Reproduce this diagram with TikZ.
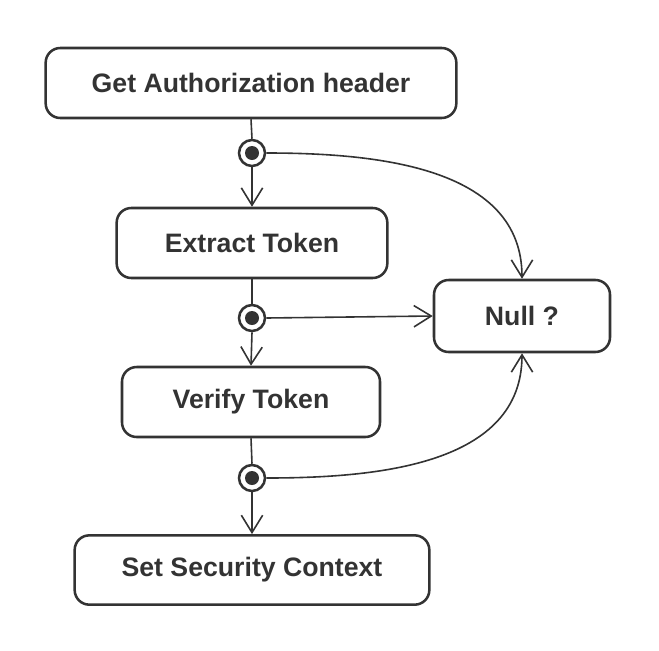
\documentclass[tikz,border=0pt]{standalone}
\usepackage{fontspec}
\setmainfont{Liberation Sans}
\usetikzlibrary{arrows.meta}
\definecolor{ink}{HTML}{333333}

\tikzset{
  stepbox/.style={draw=ink, line width=1.9pt, rounded corners=11pt, text=ink,
    font=\fontsize{20}{24}\selectfont\bfseries, inner sep=0pt},
  junction/.style={circle, draw=ink, line width=1.9pt, minimum size=19.5pt, inner sep=0pt,
    path picture={\fill[ink] (path picture bounding box.center) circle (5.25pt);}},
  flow/.style={draw=ink, line width=1.2pt, -{Straight Barb[length=13pt,width=16pt]}},
  plain/.style={draw=ink, line width=1.2pt},
}

\begin{document}
\begin{tikzpicture}[x=0.75pt,y=-0.75pt]
\useasboundingbox (0,0) rectangle (659,650);

\node [stepbox, minimum width=308pt, minimum height=52.5pt] (header) at (251,83) {Get Authorization header};
\node [stepbox, minimum width=203pt, minimum height=52.5pt] (extract) at (252,243) {Extract Token};
\node [stepbox, minimum width=193.5pt, minimum height=52.5pt] (verify) at (251,402) {Verify Token};
\node [stepbox, minimum width=266pt, minimum height=52pt] (context) at (252,570) {Set Security Context};
\node [stepbox, minimum width=132pt, minimum height=54pt] (null) at (522,316) {Null ?};

\foreach \i / \y in {1/153,2/318,3/478}
  \node [junction] (j\i) at (252,\y) {};

\draw [plain] (header.south) -- (j1.north);
\draw [flow] (j1.south) -- (extract.north);
\draw [plain] (extract.south) -- (j2.north);
\draw [flow] (j2.south) -- (verify.north);
\draw [plain] (verify.south) -- (j3.north);
\draw [flow] (j3.south) -- (context.north);

\draw [flow] (j1.east) to[out=0,in=90] (null.north);
\draw [flow] (j2.east) -- (null.west);
\draw [flow] (j3.east) to[out=0,in=-90] (null.south);

\end{tikzpicture}
\end{document}
